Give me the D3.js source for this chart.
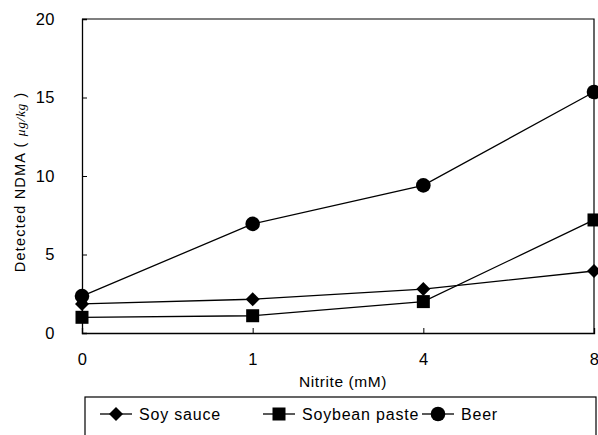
<!DOCTYPE html>
<html><head><meta charset="utf-8">
<script src="https://cdn.jsdelivr.net/npm/d3@7"></script>
<style>body{margin:0;background:#fff}svg{display:block}</style>
</head><body>
<svg id="c" width="598" height="435"></svg>
<script>
const categories = ["0", "1", "4", "8"];
const soySauce = [1.85, 2.15, 2.8, 3.95];
const soybeanPaste = [1.0, 1.1, 2.0, 7.2];
const beer = [2.35, 6.95, 9.4, 15.35];
const yTicks = [0, 5, 10, 15, 20];
const seriesNames = ["Soy sauce", "Soybean paste", "Beer"];
const seriesShapes = ["diamond", "square", "circle"];

const svg = d3.select("#c");
const L = 82, R = 594, T = 19, B = 333;
const x = d3.scalePoint().domain(categories).range([L, R]).padding(0);
const y = d3.scaleLinear().domain([0, 20]).range([B, T]);
const font = "'Liberation Sans', Arial, sans-serif";

svg.append("path").attr("d", `M${L},${T}H${R}V${B}`).attr("fill","none").attr("stroke","#000").attr("stroke-width",1.2);

const yAxis = svg.append("g").attr("transform", `translate(${L},0)`)
  .call(d3.axisLeft(y).tickValues(yTicks).tickSize(-5).tickPadding(27));
const xAxis = svg.append("g").attr("transform", `translate(0,${B})`)
  .call(d3.axisBottom(x).tickSize(-5).tickPadding(20));
[xAxis, yAxis].forEach(g => {
  g.select(".domain").attr("stroke","#000").attr("stroke-width",1.3);
  g.selectAll(".tick line").attr("stroke","#000");
  g.selectAll("text").attr("font-family", font).attr("font-size", 16.5).attr("letter-spacing", 0.5).attr("fill","#000");
});
xAxis.selectAll(".tick").filter(d => d === "0" || d === "8").select("line").remove();
yAxis.selectAll(".tick").filter(d => d === 0 || d === 20).select("line").remove();

svg.append("text").attr("x", (L + R) / 2 + 5).attr("y", 387).attr("text-anchor","middle")
  .attr("font-family", font).attr("font-size", 15.5).attr("letter-spacing", 0.6).text("Nitrite (mM)");

const yl = svg.append("text").attr("font-family", font).attr("font-size", 14.5).attr("letter-spacing", 1.2);
yl.append("tspan").text("Detected NDMA ( ");
yl.append("tspan").attr("font-family","'Liberation Serif', serif").attr("font-style","italic").attr("font-size",13.5).attr("letter-spacing", 0.6).text("μg/kg");
yl.append("tspan").text(" )");
const ylw = yl.node().getComputedTextLength();
yl.attr("transform", `translate(25,${182 + ylw / 2}) rotate(-90)`);

function marker(g, shape, cx, cy) {
  if (shape === "circle") g.append("circle").attr("cx", cx).attr("cy", cy).attr("r", 7.3);
  else if (shape === "square") g.append("rect").attr("x", cx - 6.5).attr("y", cy - 6.5).attr("width", 13).attr("height", 13);
  else g.append("path").attr("d", `M${cx},${cy-7}L${cx+7},${cy}L${cx},${cy+7}L${cx-7},${cy}Z`);
}

const allSeries = [soySauce, soybeanPaste, beer];
const line = d3.line().x((d, i) => x(categories[i])).y(d => y(d));
allSeries.forEach((vals, si) => {
  const g = svg.append("g").attr("fill","#000");
  g.append("path").attr("d", line(vals)).attr("fill","none").attr("stroke","#000").attr("stroke-width",1.3);
  vals.forEach((v, i) => marker(g, seriesShapes[si], x(categories[i]), y(v)));
});

svg.append("rect").attr("x", 85).attr("y", 397).attr("width", 511).attr("height", 60)
  .attr("fill","none").attr("stroke","#000").attr("stroke-width",1.2);
const legX = [100, 263, 422];
seriesNames.forEach((n, i) => {
  const g = svg.append("g").attr("fill","#000");
  const ly = 414;
  g.append("line").attr("x1", legX[i]).attr("x2", legX[i] + 32).attr("y1", ly).attr("y2", ly).attr("stroke","#000").attr("stroke-width",1.3);
  marker(g, seriesShapes[i], legX[i] + 16, ly);
  g.append("text").attr("x", legX[i] + 39).attr("y", ly + 6).attr("font-family", font).attr("font-size", 16).attr("letter-spacing", 0.8).text(n);
});
</script>
</body></html>
